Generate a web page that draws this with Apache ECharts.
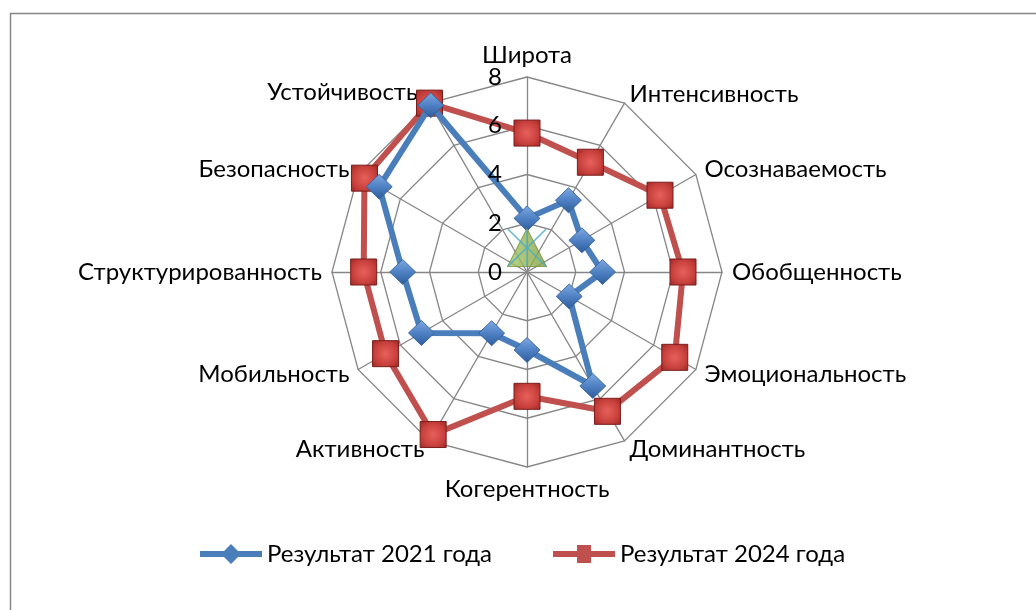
<!DOCTYPE html>
<html>
<head>
<meta charset="utf-8">
<script src="https://cdn.jsdelivr.net/npm/echarts@6/dist/echarts.min.js"></script>
<style>
html,body{margin:0;padding:0;background:#fff;}
#chart{width:1036px;height:610px;}
</style>
</head>
<body>
<div id="chart"></div>
<script>
const categories = ['Широта','Интенсивность','Осознаваемость','Обобщенность','Эмоциональность','Доминантность','Когерентность','Активность','Мобильность','Структурированность','Безопасность','Устойчивость'];
const values2021 = [2.2, 3.4, 2.6, 3.1, 2.0, 5.4, 3.2, 2.9, 5.0, 5.1, 7.0, 7.9];
const values2024 = [5.7, 5.2, 6.3, 6.4, 7.0, 6.6, 5.1, 7.7, 6.7, 6.7, 7.7, 8.0];
const extraSeriesA = [1]; // value at 'Широта' only
const extraSeriesB = [1];
const seriesNames = ['Результат 2021 года', 'Результат 2024 года'];
const axisMax = 8;

const FONT = 'Lato';
const FS = 24;
const chart = echarts.init(document.getElementById('chart'));

// ECharts radar runs counter-clockwise; reorder so the categories go clockwise
const order = [0].concat(categories.map(function (_, i) { return i; }).slice(1).reverse());
const reorder = function (arr) { return order.map(function (i) { return arr[i]; }); };

const indicators = order.map(function (ci) {
  return { name: categories[ci], min: 0, max: axisMax };
});
const labelIndicators = order.map(function (ci, k) {
  const ind = { name: '', min: 0, max: axisMax };
  if (k === 0) {
    ind.axisLabel = { show: true, fontSize: FS, color: '#000', fontFamily: FONT, margin: 25 };
  }
  return ind;
});

const blueFill = new echarts.graphic.LinearGradient(0, 0, 0, 1, [
  { offset: 0, color: '#7fa9e0' }, { offset: 0.5, color: '#4f81c4' }, { offset: 1, color: '#2d5c9a' }
]);
const redFill = new echarts.graphic.RadialGradient(0.5, 0.5, 0.7, [
  { offset: 0, color: '#e8605c' }, { offset: 0.6, color: '#c8403c' }, { offset: 1, color: '#9a2624' }
]);
const greenFill = new echarts.graphic.LinearGradient(0, 0, 1, 0, [
  { offset: 0, color: '#a9c86a' }, { offset: 1, color: '#7f9e3e' }
]);
const starPath = 'path://M0,1.2 L1.2,0 L19.3,18.3 L19.3,0 L20.7,0 L20.7,18.3 L38.8,0 L40,1.2 L21.4,20 L40,38.8 L38.8,40 L20.7,21.7 L20.7,40 L19.3,40 L19.3,21.7 L1.2,40 L0,38.8 L18.6,20 Z';

const radarBase = {
  center: [527, 272],
  radius: 195,
  startAngle: 90,
  shape: 'polygon',
  splitNumber: 4,
  splitArea: { show: false },
  axisTick: { show: false },
  axisLabel: { show: false }
};

const option = {
  backgroundColor: '#fff',
  animation: false,
  textStyle: { fontFamily: FONT },
  graphic: [{
    type: 'rect', left: 8, top: 11, z: -10,
    shape: { width: 1100, height: 700 },
    style: { fill: 'none', stroke: '#868686', lineWidth: 1.5 }
  }],
  legend: {
    left: 195, top: 537,
    itemWidth: 62, itemHeight: 20, itemGap: 61,
    textStyle: { fontSize: FS, color: '#000', fontFamily: FONT },
    data: [
      { name: seriesNames[0], icon: 'path://M0,7 L62,7 L62,13 L0,13 Z M31,0 L41,10 L31,20 L21,10 Z', itemStyle: { color: '#4a7ebb', borderWidth: 0 } },
      { name: seriesNames[1], icon: 'path://M0,7 L62,7 L62,13 L0,13 Z M24,1 L38,1 L38,19 L24,19 Z', itemStyle: { color: '#c0504d', borderWidth: 0 } }
    ]
  },
  radar: [
    Object.assign({}, radarBase, {
      z: 0,
      indicator: indicators,
      axisName: {
        color: '#000', fontSize: FS, fontFamily: FONT,
        formatter: function (name) {
          return name === categories[11] ? '{u|' + name + '}' : name;
        },
        rich: { u: { fontSize: FS, fontFamily: FONT, color: '#000', padding: [0, 7, 4, 0] } }
      },
      nameGap: 10,
      axisLine: { lineStyle: { color: '#868686', width: 1.3 } },
      splitLine: { lineStyle: { color: '#868686', width: 1.3 } }
    }),
    Object.assign({}, radarBase, {
      z: 20,
      indicator: labelIndicators,
      axisName: { show: false },
      axisLine: { show: false },
      splitLine: { show: false }
    })
  ],
  polar: { center: [527, 272], radius: 195 },
  angleAxis: { type: 'value', min: 0, max: 360, startAngle: 90, show: false },
  radiusAxis: { type: 'value', min: 0, max: axisMax, show: false },
  series: [
    {
      type: 'radar', name: seriesNames[0], z: 3, radarIndex: 0,
      symbol: 'diamond', symbolSize: [26, 25],
      lineStyle: { color: '#4a7ebb', width: 6 },
      itemStyle: { color: blueFill, borderColor: '#2f5d96', borderWidth: 0.8 },
      data: [{ value: reorder(values2021), name: seriesNames[0] }]
    },
    {
      type: 'radar', name: seriesNames[1], z: 2, radarIndex: 0,
      symbol: 'rect', symbolSize: 26,
      lineStyle: { color: '#c0504d', width: 6 },
      itemStyle: { color: redFill, borderColor: '#7a1d1b', borderWidth: 1 },
      data: [{ value: reorder(values2024), name: seriesNames[1] }]
    },
    {
      type: 'scatter', coordinateSystem: 'polar', z: 4,
      symbol: 'triangle', symbolSize: [39, 38],
      itemStyle: { color: greenFill, borderColor: '#6a8a30', borderWidth: 1 },
      data: extraSeriesA.map(function (v, i) { return [v, i * 30]; })
    },
    {
      type: 'scatter', coordinateSystem: 'polar', z: 5,
      symbol: starPath, symbolSize: [39, 38],
      itemStyle: { color: '#4bacc6' },
      data: extraSeriesB.map(function (v, i) { return [v, i * 30]; })
    }
  ]
};
chart.setOption(option);
</script>
</body>
</html>
